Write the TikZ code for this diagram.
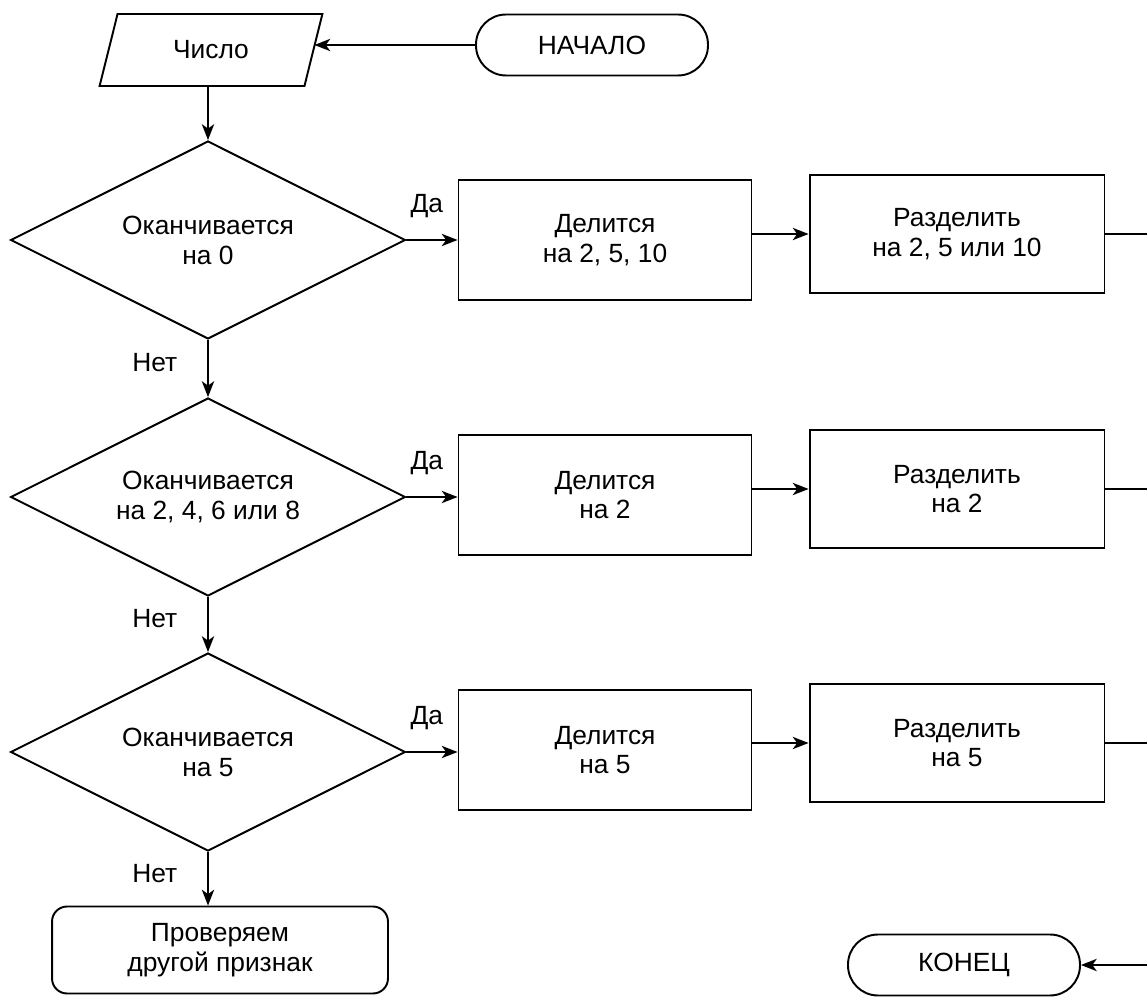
\documentclass[tikz,border=0pt]{standalone}
\usepackage{fontspec}
\setmainfont{Liberation Sans}
\usetikzlibrary{shapes.geometric,arrows.meta}
\begin{document}
\fontsize{15}{17}\selectfont
\begin{tikzpicture}[x=0.02cm,y=-0.02cm,line width=1.1pt,>={Stealth[length=9pt,width=7pt,inset=2.5pt]}]
  \tikzstyle{block}=[draw, rectangle, align=center, inner sep=2pt]
  \tikzstyle{cond}=[draw, diamond, aspect=2, align=center, inner sep=0pt, minimum width=7.9cm, minimum height=3.96cm]
  \tikzstyle{term}=[draw, rectangle, rounded corners=0.6cm, minimum width=4.64cm, minimum height=1.22cm]
  \tikzstyle{io}=[draw, trapezium, trapezium left angle=76, trapezium right angle=104, minimum width=4.36cm, minimum height=1.44cm]
  \tikzstyle{solid}=[->]
  \useasboundingbox (0,0) rectangle (1147,1000);
  \node[term] (start) at (592,45) {НАЧАЛО};
  \node[io] (num) at (211,50) {Число};
  \node[cond] (C1) at (208,240) {Оканчивается\\на 0};
  \node[cond] (C2) at (208,497) {Оканчивается\\на 2, 4, 6 или 8};
  \node[cond] (C3) at (208,752) {Оканчивается\\на 5};
  \node[block, minimum width=5.86cm, minimum height=2.4cm] (D1) at (605,240) {Делится\\на 2, 5, 10};
  \node[block, minimum width=5.86cm, minimum height=2.4cm] (D2) at (605,495) {Делится\\на 2};
  \node[block, minimum width=5.86cm, minimum height=2.4cm] (D3) at (605,750) {Делится\\на 5};
  \node[block, minimum width=5.9cm, minimum height=2.36cm] (R1) at (957,234) {Разделить\\на 2, 5 или 10};
  \node[block, minimum width=5.9cm, minimum height=2.36cm] (R2) at (957,489) {Разделить\\на 2};
  \node[block, minimum width=5.9cm, minimum height=2.36cm] (R3) at (957,743) {Разделить\\на 5};
  \node[block, rounded corners=0.3cm, minimum width=6.72cm, minimum height=1.74cm] (other) at (220,950) {Проверяем\\другой признак};
  \node[term] (stop) at (964,965) {КОНЕЦ};
  \coordinate (E1) at (1152,234);
  \coordinate (E2) at (1152,489);
  \coordinate (E3) at (1152,743);
  \coordinate (E4) at (1152,965);
  \draw [solid] (start.west) -- (start.west -| num.east);
  \draw [solid] (num.south -| C1.north) -- (C1.north);
  \draw [solid] (C1.east) -- (D1.west) node[pos=0.4,above=7pt] {Да};
  \draw [solid] (C2.east) -- (C2.east -| D2.west) node[pos=0.4,above=7pt] {Да};
  \draw [solid] (C3.east) -- (C3.east -| D3.west) node[pos=0.4,above=7pt] {Да};
  \draw [solid] (C1.south) -- (C2.north) node[pos=0.4,left=12pt] {Нет};
  \draw [solid] (C2.south) -- (C3.north) node[pos=0.4,left=12pt] {Нет};
  \draw [solid] (C3.south) -- (C3.south |- other.north) node[pos=0.4,left=12pt] {Нет};
  \draw [solid] (R1.west -| D1.east) -- (R1.west);
  \draw [solid] (R2.west -| D2.east) -- (R2.west);
  \draw [solid] (R3.west -| D3.east) -- (R3.west);
  \draw (R1.east) -- (E1);
  \draw (R2.east) -- (E2);
  \draw (R3.east) -- (E3);
  \draw [solid] (E4) -- (stop.east);
\end{tikzpicture}
\end{document}
